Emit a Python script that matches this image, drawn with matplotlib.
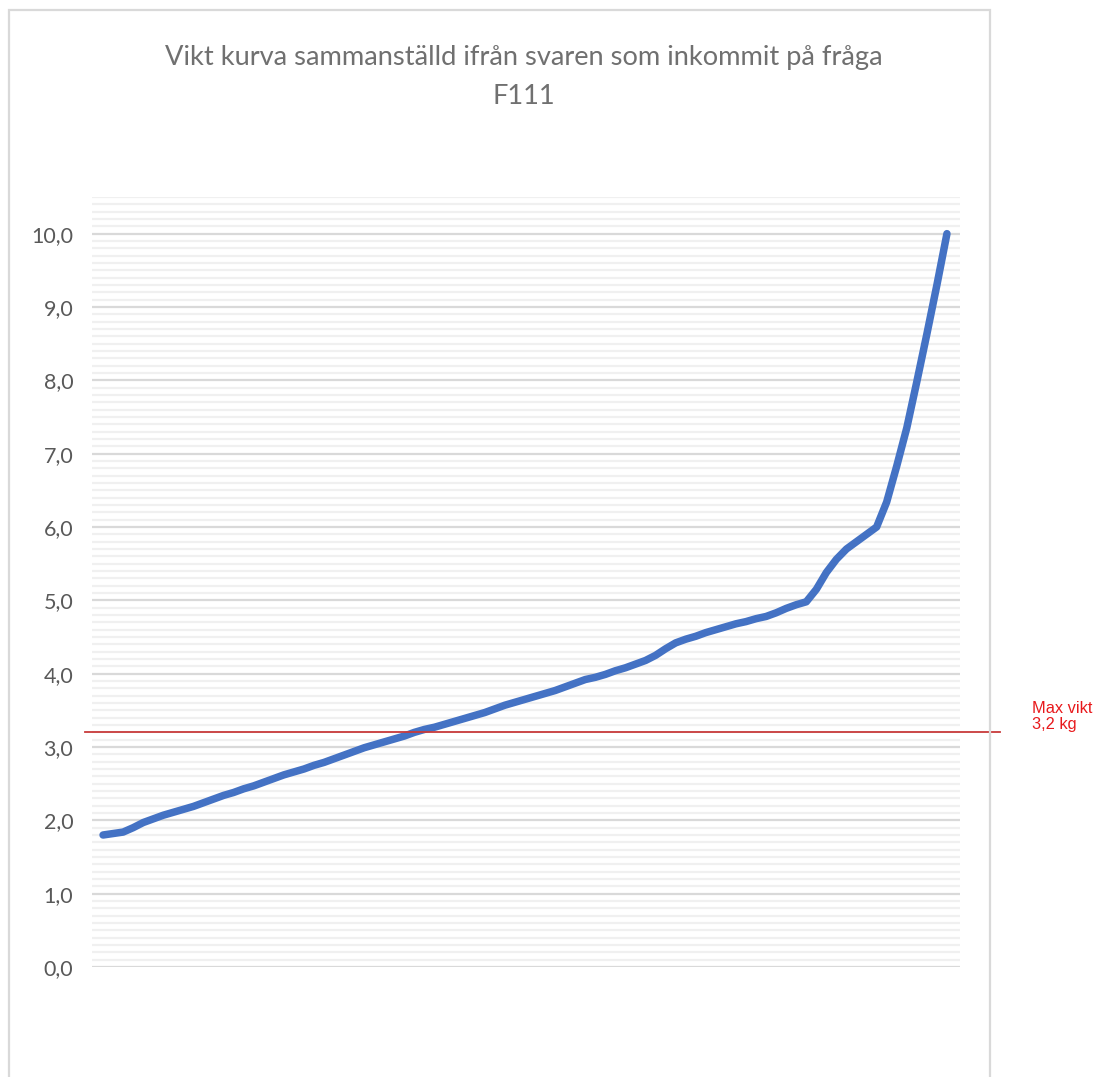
import matplotlib
matplotlib.use("Agg")
import matplotlib.pyplot as plt
from matplotlib.patches import Rectangle
from matplotlib.ticker import MultipleLocator, FuncFormatter

# ---- data ----
weights = [1.80, 1.82, 1.84, 1.90, 1.97, 2.02, 2.07, 2.11, 2.15, 2.19,
           2.24, 2.29, 2.34, 2.38, 2.43, 2.47, 2.52, 2.57, 2.62, 2.66,
           2.70, 2.75, 2.79, 2.84, 2.89, 2.94, 2.99, 3.03, 3.07, 3.11,
           3.15, 3.20, 3.24, 3.27, 3.31, 3.35, 3.39, 3.43, 3.47, 3.52,
           3.57, 3.61, 3.65, 3.69, 3.73, 3.77, 3.82, 3.87, 3.92, 3.95,
           3.99, 4.04, 4.08, 4.13, 4.18, 4.25, 4.34, 4.42, 4.47, 4.51,
           4.56, 4.60, 4.64, 4.68, 4.71, 4.75, 4.78, 4.83, 4.89, 4.94,
           4.98, 5.15, 5.38, 5.56, 5.70, 5.80, 5.90, 6.00, 6.34, 6.83,
           7.35, 7.98, 8.63, 9.30, 10.0]
respondent = list(range(len(weights)))
max_weight = 3.2
title = "Vikt kurva sammanställd ifrån svaren som inkommit på fråga\nF111"
max_label = "Max vikt\n3,2 kg"

W, H = 1101, 1077
fig = plt.figure(figsize=(W / 100, H / 100), dpi=100)
fig.patch.set_facecolor("white")

# outer chart frame
fig.patches.append(Rectangle((9 / W, -0.01), (990 - 9) / W, (H - 10) / H + 0.01,
                             transform=fig.transFigure, fill=False,
                             edgecolor="#d9d9d9", linewidth=1.6))

ax = fig.add_axes([92 / W, (H - 967) / H, (960 - 92) / W, (967 - 197) / H])
ax.set_facecolor("white")
ax.plot(respondent, weights, color="#4472C4", linewidth=5.4,
        solid_capstyle="round", solid_joinstyle="round", zorder=3)

ax.set_xlim(-1.1, 85.3)
ax.set_ylim(0, 10.5)
ax.yaxis.set_major_locator(MultipleLocator(1))
ax.yaxis.set_minor_locator(MultipleLocator(0.1))
ax.yaxis.set_major_formatter(FuncFormatter(lambda v, p: f"{v:.1f}".replace(".", ",")))
ax.grid(which="major", axis="y", color="#d9d9d9", linewidth=1.6, zorder=1)
ax.grid(which="minor", axis="y", color="#f0f0f0", linewidth=1.6, zorder=0)
ax.tick_params(axis="y", which="both", length=0, pad=13.5, labelsize=15.5,
               labelcolor="#595959")
for lab in ax.get_yticklabels():
    lab.set_fontfamily("Lato")
ax.set_xticks([])
for s in ax.spines.values():
    s.set_visible(False)

# max weight line
ax.plot([-0.008, 1.046], [max_weight, max_weight], color="#c83a3a",
        linewidth=1.3, transform=ax.get_yaxis_transform(), clip_on=False, zorder=4)
ax.text(1.083, max_weight + 0.22, max_label, transform=ax.get_yaxis_transform(),
        color="#e8191c", fontsize=11.8, family="Liberation Sans", ha="left",
        va="center", linespacing=1.05)

fig.text(524 / W, 1 - 77 / H, title, ha="center", va="center", fontsize=19.6,
         color="#707070", family="Lato", fontweight="normal", linespacing=1.65)

fig.savefig("out.png", dpi=100)
